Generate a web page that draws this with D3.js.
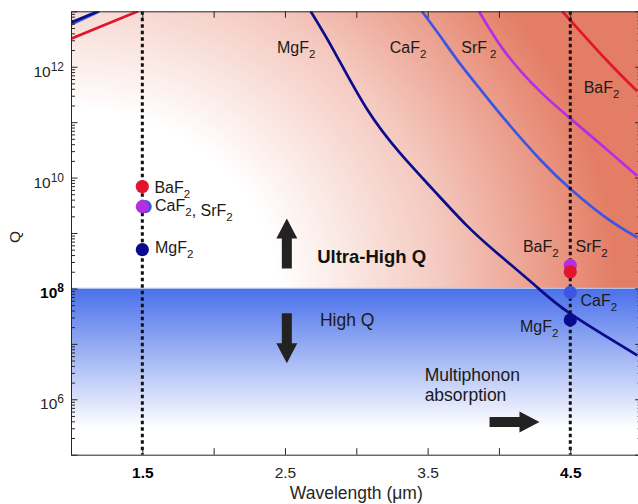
<!DOCTYPE html>
<html>
<head>
<meta charset="utf-8">
<script src="https://cdn.jsdelivr.net/npm/d3@7"></script>
<style>
  body { margin: 0; background: #fff; }
  text { font-family: Arial, "Liberation Sans", Helvetica, sans-serif; }
</style>
</head>
<body>
<svg id="chart"></svg>
<script>
// multiphonon-limited Q curves (wavelength in um, Q)
const wlMgF2 = [2.68, 2.84, 3.07, 3.31, 3.54, 3.77, 3.98, 4.25, 4.50, 4.97];
const qMgF2 = [1.0e13, 2.0e12, 1.8e11, 2.7e10, 6.0e9, 1.4e9, 4.5e8, 1.15e8, 3.5e7, 6.2e6];
const wlCaF2 = [3.46, 3.59, 3.72, 3.86, 4.05, 4.29, 4.50, 4.75, 4.97];
const qCaF2 = [1.0e13, 3.5e12, 1.2e12, 4.2e11, 1.05e11, 2.1e10, 6.3e9, 1.9e9, 8.3e8];
const wlSrF2 = [3.86, 4.05, 4.29, 4.50, 4.75, 4.97];
const qSrF2 = [1.0e13, 1.74e12, 3.55e11, 1.17e11, 3.3e10, 1.07e10];
const wlBaF2 = [4.44, 4.50, 4.75, 4.97];
const qBaF2 = [1.0e13, 6.9e12, 1.35e12, 3.6e11];

// short-wavelength branches (top left corner)
const wlScatBaF2 = [1.0, 1.23, 1.47];
const qScatBaF2 = [3.2e12, 5.6e12, 1.0e13];
const wlScatCaF2 = [1.0, 1.2];
const qScatCaF2 = [5.75e12, 1.0e13];
const wlScatMgF2 = [1.0, 1.19];
const qScatMgF2 = [6.3e12, 1.0e13];

// measured points at 1.5 um and 4.5 um
const dotMaterials = ["MgF2", "CaF2", "SrF2", "BaF2"];
const dotWl15 = [1.5, 1.52, 1.5, 1.5];
const dotQ15 = [5.0e8, 3.0e9, 3.0e9, 6.9e9];
const dotWl45 = [4.5, 4.5, 4.5, 4.5];
const dotQ45 = [2.7e7, 8.5e7, 2.6e8, 2.0e8];

const markerWl = [1.5, 4.5];
const xTickValues = [1.5, 2, 2.5, 3, 3.5, 4, 4.5];
const xTickLabels = ["1.5", "", "2.5", "", "3.5", "", "4.5"];
const yLabelExps = [6, 8, 10, 12];
const qThreshold = 1e8;

const color = { MgF2: "#0b0b8e", CaF2: "#3c55e2", SrF2: "#b42fe3", BaF2: "#e1152f" };
const axisColor = "#262626";

const width = 638, height = 504;
const svg = d3.select("#chart").attr("width", width).attr("height", height);

const x = d3.scaleLinear().domain([1, 5]).range([71, 641.6]);
const y = d3.scaleLog().domain([1e5, 1e13]).range([454.7, 11.3]);

const defs = svg.append("defs");
defs.append("clipPath").attr("id", "plot")
    .append("rect")
    .attr("x", x(1)).attr("y", y(1e13))
    .attr("width", x(5) - x(1)).attr("height", y(1e5) - y(1e13));

// pink glow spreading from the lower-left corner of the ultra-high-Q region
const cx0 = x(1), cy0 = y(qThreshold);
const redGrad = defs.append("radialGradient").attr("id", "redGrad")
    .attr("gradientUnits", "userSpaceOnUse")
    .attr("cx", cx0).attr("cy", cy0).attr("r", 545)
    .attr("fx", cx0).attr("fy", cy0)
    .attr("gradientTransform", `translate(${cx0},${cy0}) scale(1,${1 / 1.15}) translate(${-cx0},${-cy0})`);
redGrad.append("stop").attr("offset", 0.376).attr("stop-color", "#ffffff");
redGrad.append("stop").attr("offset", 0.688).attr("stop-color", "#f4c8be");
redGrad.append("stop").attr("offset", 1).attr("stop-color", "#e47d65");

const blueGrad = defs.append("linearGradient").attr("id", "blueGrad")
    .attr("gradientUnits", "userSpaceOnUse")
    .attr("x1", 0).attr("y1", y(qThreshold)).attr("x2", 0).attr("y2", 428);
blueGrad.append("stop").attr("offset", 0).attr("stop-color", "#4a70ea");
blueGrad.append("stop").attr("offset", 1).attr("stop-color", "#ffffff");

const plot = svg.append("g").attr("clip-path", "url(#plot)");

// backgrounds
plot.append("rect")
    .attr("x", x(1)).attr("y", y(1e13))
    .attr("width", x(5) - x(1)).attr("height", y(qThreshold) - y(1e13))
    .attr("fill", "url(#redGrad)");
plot.append("rect")
    .attr("x", x(1)).attr("y", y(qThreshold))
    .attr("width", x(5) - x(1)).attr("height", y(1e5) - y(qThreshold))
    .attr("fill", "url(#blueGrad)");
plot.append("line")
    .attr("x1", x(1)).attr("x2", x(5))
    .attr("y1", y(qThreshold)).attr("y2", y(qThreshold))
    .attr("stroke", "#b4c1ee").attr("stroke-width", 1.2);

// curves
const line = d3.line().x(d => x(d[0])).y(d => y(d[1])).curve(d3.curveNatural);
const curves = [
    [wlScatCaF2, qScatCaF2, "CaF2"],
    [wlScatMgF2, qScatMgF2, "MgF2"],
    [wlScatBaF2, qScatBaF2, "BaF2"],
    [wlMgF2, qMgF2, "MgF2"],
    [wlCaF2, qCaF2, "CaF2"],
    [wlSrF2, qSrF2, "SrF2"],
    [wlBaF2, qBaF2, "BaF2"]
];
curves.forEach(([wl, q, m]) => {
    plot.append("path")
        .datum(wl.map((w, i) => [w, q[i]]))
        .attr("d", line)
        .attr("fill", "none")
        .attr("stroke", color[m])
        .attr("stroke-width", 2.7);
});

// dotted verticals
plot.selectAll(".marker")
    .data(markerWl)
    .enter()
    .append("line")
    .attr("x1", d => x(d)).attr("x2", d => x(d))
    .attr("y1", y(1e13)).attr("y2", y(1e5))
    .attr("stroke", "#111")
    .attr("stroke-width", 3)
    .attr("stroke-dasharray", "3.5,3");

// dots
const dots = dotMaterials.map((m, i) => ({ m, wl: dotWl15[i], q: dotQ15[i] }))
    .concat(dotMaterials.map((m, i) => ({ m, wl: dotWl45[i], q: dotQ45[i] })));
plot.selectAll(".dot")
    .data(dots)
    .enter()
    .append("circle")
    .attr("cx", d => x(d.wl))
    .attr("cy", d => y(d.q))
    .attr("r", 6.6)
    .attr("fill", d => color[d.m]);

// chemical labels with subscript
function chem(px, py, parts, size) {
    const t = svg.append("text").attr("x", px).attr("y", py)
        .attr("font-size", size).attr("fill", "#1a1a1a");
    parts.forEach(p => {
        if (p.sub) {
            t.append("tspan").attr("dx", p.gap || 0).attr("dy", 5)
                .attr("font-size", size * 0.72).text(p.s);
            t.append("tspan").attr("dy", -5).text("");
        } else {
            t.append("tspan").text(p.s);
        }
    });
    return t;
}
const F2 = (el, gap) => [{ s: el + "F" }, { s: "2", sub: true, gap }];

chem(x(2.444), y(10 ** 12.248), F2("Mg"), 16);
chem(x(3.234), y(10 ** 12.248), F2("Ca"), 16);
chem(x(3.736), y(10 ** 12.248), F2("Sr", 3), 16);
chem(x(4.594), y(10 ** 11.531), F2("Ba"), 16);

chem(x(1.585), y(10 ** 9.73), F2("Ba"), 16);
chem(x(1.589), y(10 ** 9.40), F2("Ca").concat([{ s: ", SrF" }, { s: "2", sub: true }]), 16);
chem(x(1.589), y(10 ** 8.634), F2("Mg"), 16);

chem(x(4.168), y(10 ** 8.663), F2("Ba"), 16);
chem(x(4.537), y(10 ** 8.663), F2("Sr"), 16);
chem(x(4.572), y(10 ** 7.687), F2("Ca"), 16);
chem(x(4.147), y(10 ** 7.22), F2("Mg"), 16);

svg.append("text").attr("x", x(2.726)).attr("y", y(10 ** 8.467))
    .attr("font-size", 18.5).attr("font-weight", "bold").attr("fill", "#111")
    .text("Ultra-High Q");
svg.append("text").attr("x", x(2.745)).attr("y", y(10 ** 7.322))
    .attr("font-size", 17.5).attr("fill", "#1a1a1a")
    .text("High Q");
svg.append("text").attr("x", x(3.479)).attr("y", y(10 ** 6.336))
    .attr("font-size", 17.5).attr("fill", "#1a1a1a")
    .text("Multiphonon");
svg.append("text").attr("x", x(3.479)).attr("y", y(10 ** 5.975))
    .attr("font-size", 17.5).attr("fill", "#1a1a1a")
    .text("absorption");

// block arrows
function arrow(x1, y1, x2, y2) {
    const dx = x2 - x1, dy = y2 - y1, len = Math.hypot(dx, dy);
    const ux = dx / len, uy = dy / len, nx = -uy, ny = ux;
    const sw = 5, hw = 10.5, hl = 20;
    const bx = x2 - ux * hl, by = y2 - uy * hl;
    const pts = [
        [x1 + nx * sw, y1 + ny * sw], [bx + nx * sw, by + ny * sw],
        [bx + nx * hw, by + ny * hw], [x2, y2],
        [bx - nx * hw, by - ny * hw], [bx - nx * sw, by - ny * sw],
        [x1 - nx * sw, y1 - ny * sw]
    ];
    svg.append("polygon").attr("points", pts.map(p => p.join(",")).join(" "))
        .attr("fill", "#222");
}
arrow(x(2.513), y(10 ** 8.36), x(2.513), y(10 ** 9.26));
arrow(x(2.513), y(10 ** 7.55), x(2.513), y(10 ** 6.65));
arrow(x(3.934), y(10 ** 5.59), x(4.284), y(10 ** 5.59));

// axes
const decades = d3.range(5, 14).map(e => 10 ** e);
const minors = [];
decades.slice(0, -1).forEach(d => { for (let k = 2; k < 10; k++) minors.push(k * d); });

function styleAxis(g) {
    g.selectAll("path, line").attr("stroke", axisColor).attr("stroke-width", 1);
}

svg.append("g").attr("transform", `translate(${x(1)},0)`)
    .call(d3.axisLeft(y).tickValues(decades).tickSize(-6.5).tickSizeOuter(0).tickFormat(""))
    .call(styleAxis);
svg.append("g").attr("transform", `translate(${x(1)},0)`)
    .call(d3.axisLeft(y).tickValues(minors).tickSize(-4).tickSizeOuter(0).tickFormat(""))
    .call(styleAxis).call(g => g.select(".domain").remove());
svg.append("g").attr("transform", `translate(${x(5)},0)`)
    .call(d3.axisRight(y).tickValues(decades).tickSize(-6.5).tickSizeOuter(0).tickFormat(""))
    .call(styleAxis);
svg.append("g").attr("transform", `translate(${x(5)},0)`)
    .call(d3.axisRight(y).tickValues(minors).tickSize(-4).tickSizeOuter(0).tickFormat(""))
    .call(styleAxis).call(g => g.select(".domain").remove());

svg.append("g").attr("transform", `translate(0,${y(1e13)})`)
    .call(d3.axisTop(x).tickValues(xTickValues).tickSize(-6.5).tickSizeOuter(0).tickFormat(""))
    .call(styleAxis);

const xAxis = svg.append("g").attr("transform", `translate(0,${y(1e5)})`)
    .call(d3.axisBottom(x).tickValues(xTickValues).tickSize(-6.5).tickSizeOuter(0)
        .tickPadding(12).tickFormat((d, i) => xTickLabels[i]))
    .call(styleAxis);
xAxis.selectAll("text")
    .attr("font-size", 15.5)
    .attr("font-family", "Arial, 'Liberation Sans', Helvetica, sans-serif")
    .attr("fill", d => markerWl.includes(d) ? "#000" : axisColor)
    .attr("font-weight", d => markerWl.includes(d) ? "bold" : "normal");

yLabelExps.forEach(e => {
    const bold = y(10 ** e) === y(qThreshold);
    const t = svg.append("text")
        .attr("x", x(1) - 7)
        .attr("y", y(10 ** e) + 10)
        .attr("text-anchor", "end")
        .attr("font-size", 15.5)
        .attr("font-weight", bold ? "bold" : "normal")
        .attr("fill", bold ? "#000" : axisColor);
    t.append("tspan").text("10");
    t.append("tspan").attr("dy", -6).attr("font-size", 12).text(e);
});

svg.append("text")
    .attr("x", (x(1) + x(5)) / 2)
    .attr("y", 499)
    .attr("text-anchor", "middle")
    .attr("font-size", 17.5)
    .attr("fill", axisColor)
    .text("Wavelength (\u03bcm)");

svg.append("text")
    .attr("transform", `translate(20,237) rotate(-90)`)
    .attr("text-anchor", "middle")
    .attr("font-size", 15.5)
    .attr("fill", axisColor)
    .text("Q");
</script>
</body>
</html>
